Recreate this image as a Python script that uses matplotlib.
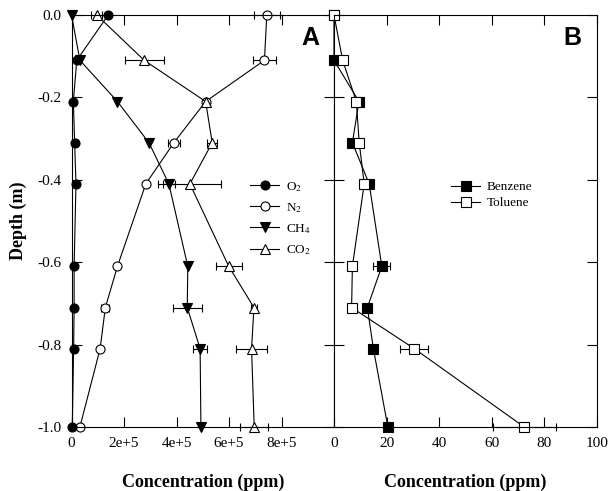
import matplotlib
matplotlib.use("Agg")
import matplotlib.pyplot as plt
from matplotlib.ticker import FixedLocator

plt.rcParams['font.family'] = 'Liberation Serif'
plt.rcParams['mathtext.fontset'] = 'stix'
plt.rcParams['axes.unicode_minus'] = False

depth = [0.0, -0.11, -0.21, -0.31, -0.41, -0.61, -0.71, -0.81, -1.0]

# panel A gases (ppm)
o2 = [1.4e5, 2.0e4, 7e3, 1.2e4, 1.7e4, 1.0e4, 1.0e4, 8e3, 3e3]
o2_err = [0, 0, 0, 0, 0, 0, 0, 0, 0]
n2 = [7.44e5, 7.35e5, 5.11e5, 3.9e5, 2.83e5, 1.75e5, 1.29e5, 1.09e5, 3.2e4]
n2_err = [5e4, 4.4e4, 0, 2.3e4, 0, 0, 1.5e4, 0, 0]
ch4 = [0, 3.2e4, 1.75e5, 2.95e5, 3.71e5, 4.43e5, 4.41e5, 4.9e5, 4.93e5]
ch4_err = [0, 0, 0, 0, 2.4e4, 0, 5.6e4, 2.8e4, 0]
co2 = [9.6e4, 2.77e5, 5.11e5, 5.36e5, 4.51e5, 5.99e5, 6.95e5, 6.86e5, 6.96e5]
co2_err = [2e4, 7.4e4, 0, 1.8e4, 1.2e5, 5e4, 1e4, 5.8e4, 5.3e4]

# panel B aromatics (ppm)
benzene = [0, 0, 9.5, 7.0, 13.4, 18.2, 12.7, 15.0, 20.5]
benzene_err = [0, 0, 0.6, 0, 1.5, 3.2, 0, 0, 1.0]
toluene = [0, 3.3, 8.5, 9.6, 11.5, 7.0, 6.7, 30.6, 72.4]
toluene_err = [0, 0, 0, 0, 0, 0, 0, 5.3, 12.0]

a_ticks = [0, 2e5, 4e5, 6e5, 8e5]
a_labels = ['0', '2e+5', '4e+5', '6e+5', '8e+5']
b_ticks = [0, 20, 40, 60, 80, 100]
y_ticks = [0.0, -0.2, -0.4, -0.6, -0.8, -1.0]

fig = plt.figure(figsize=(6.1, 4.91), dpi=100)
W, H = 610, 491
left, mid, right = 71.5 / W, 334 / W, 596.7 / W
bottom, top = 1 - 427 / H, 1 - 15 / H
axA = fig.add_axes([left, bottom, mid - left, top - bottom])
axB = fig.add_axes([mid, bottom, right - mid, top - bottom])

style = dict(color='black', lw=0.8, markersize=6.5, markeredgewidth=0.8,
             markeredgecolor='black', capsize=3, elinewidth=0.8, capthick=0.8,
             clip_on=False)

e_n2 = axA.errorbar(n2, depth, xerr=n2_err, marker='o', markerfacecolor='white', **style)
e_co2 = axA.errorbar(co2, depth, xerr=co2_err, marker='^', markerfacecolor='white', **style)
e_o2 = axA.errorbar(o2, depth, xerr=o2_err, marker='o', markerfacecolor='black', **style)
e_ch4 = axA.errorbar(ch4, depth, xerr=ch4_err, marker='v', markerfacecolor='black', **style)

e_bz = axB.errorbar(benzene, depth, xerr=benzene_err, marker='s', markerfacecolor='black', **style)
e_tl = axB.errorbar(toluene, depth, xerr=toluene_err, marker='s', markerfacecolor='white', **style)

for ax in (axA, axB):
    ax.set_ylim(-1.0, 0.0)
    ax.tick_params(direction='in', length=7, width=0.8, top=True, right=True,
                   labelsize=11, pad=7)
    for s in ax.spines.values():
        s.set_linewidth(0.8)
    ax.set_xlabel('Concentration (ppm)', fontsize=13, fontweight='bold', labelpad=17)

axA.set_xlim(0, 1e6)
axA.xaxis.set_major_locator(FixedLocator(a_ticks))
axA.set_xticklabels(a_labels)
axA.set_yticks(y_ticks)
axA.set_yticklabels(['%.1f' % v for v in y_ticks])
axA.set_ylabel('Depth (m)', fontsize=13, fontweight='bold', labelpad=8)

axB.set_xlim(0, 100)
axB.set_xticks(b_ticks)
axB.set_yticks(y_ticks)
axB.tick_params(labelleft=False)

axA.text(0.875, 0.945, 'A', transform=axA.transAxes, family='Liberation Sans',
         fontsize=18, fontweight='bold', ha='left', va='center')
axB.text(0.872, 0.945, 'B', transform=axB.transAxes, family='Liberation Sans',
         fontsize=18, fontweight='bold', ha='left', va='center')

fig.legend([e_o2[0], e_n2[0], e_ch4[0], e_co2[0]],
           ['O$_2$', 'N$_2$', 'CH$_4$', 'CO$_2$'],
           loc='upper left', bbox_to_anchor=(250 / W, 1 - 180 / H),
           frameon=False, fontsize=9.5, handlelength=2.2, handletextpad=0.5,
           borderpad=0, borderaxespad=0, labelspacing=0.55)
fig.legend([e_bz[0], e_tl[0]], ['Benzene', 'Toluene'],
           loc='upper left', bbox_to_anchor=(451 / W, 1 - 181 / H),
           frameon=False, fontsize=9.5, handlelength=2.2, handletextpad=0.5,
           borderpad=0, borderaxespad=0, labelspacing=0.3)

fig.savefig('out.png', dpi=100)
